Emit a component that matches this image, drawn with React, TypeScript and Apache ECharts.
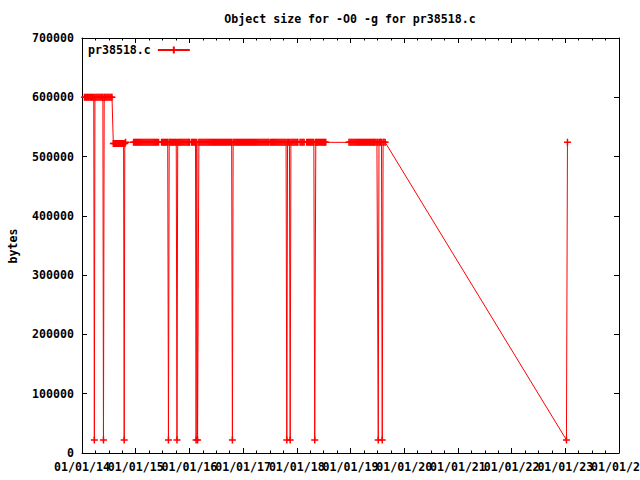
import React, { useEffect, useRef } from 'react';
import * as echarts from 'echarts';

const TITLE = 'Object size for -O0 -g for pr38518.c';
const SERIES_NAME = 'pr38518.c';
const Y_NAME = 'bytes';
const X_START_YEAR = 2014;
const X_END_YEAR = 2024;
const Y_MAX = 700000;
const Y_STEP = 100000;

// Days since 01/01/14 of the dense runs of builds, one array per size level
const bandLevels = [600000, 522000, 524000];
const band600Days = [
  17, 24, 31, 38, 45, 52, 59, 66, 73, 80, 88, 95, 102, 109, 116, 123, 130, 137, 142, 151, 156, 163, 170, 177, 184, 191, 198, 204,
];
const band522Days = [213, 220, 227, 234, 241, 248, 255, 262, 269, 276, 283, 291];
const band524Days = [
  351, 358, 365, 372, 379, 386, 393, 400, 407, 414, 421, 428, 435, 442, 449, 456, 463, 470, 477, 484, 491, 498, 505, 512, 521,
  541, 548, 555, 562, 569, 576, 583, 593, 600, 607, 614, 621, 628, 635, 641, 651, 658, 665, 672, 679, 686, 693, 700, 707, 714, 721, 726, 731,
  745, 752, 759, 766, 772, 781, 795, 802, 809, 816, 823, 830, 837, 844, 851, 858, 865, 872, 879, 886, 893, 900, 907, 914, 921, 928,
  935, 942, 949, 956, 963, 970, 977, 984, 991, 998, 1005, 1012, 1018, 1028, 1035, 1042, 1049, 1056, 1063, 1070, 1077, 1084,
  1091, 1098, 1105, 1112, 1119, 1126, 1133, 1140, 1147, 1154, 1161, 1168, 1175, 1182, 1189, 1196, 1203, 1210, 1217, 1224,
  1231, 1238, 1245, 1252, 1259, 1266, 1272,
  1283, 1290, 1297, 1304, 1311, 1318, 1325, 1332, 1339, 1346, 1353, 1360, 1367, 1374, 1381, 1388, 1398, 1405, 1411, 1421,
  1428, 1435, 1442, 1449, 1456, 1463, 1468,
  1483, 1490, 1497, 1504, 1511,
  1528, 1535, 1542, 1549, 1556, 1563, 1570, 1577, 1590, 1595, 1602, 1609, 1616, 1623, 1630, 1637, 1644, 1651, 1658,
  1816, 1823, 1830, 1837, 1844, 1851, 1858, 1865, 1872, 1879, 1886, 1893, 1900, 1907, 1914, 1921, 1928, 1935, 1942, 1949,
  1956, 1963, 1970, 1977, 1984, 1990, 1994,
  2006, 2010, 2020, 2026, 2032, 2037, 2048, 2054, 2062,
];
// Individual builds (dips to the bottom and isolated points)
const spotDays = [84, 146, 287, 296, 588, 646, 776, 786, 1023, 1393, 1416, 1583, 2015, 2042, 3295, 3302];
const spotSizes = [22000, 22000, 22000, 524000, 22000, 22000, 22000, 22000, 22000, 22000, 22000, 22000, 22000, 22000, 22000, 524000];

const toYear = (d: number) => X_START_YEAR + d / 365.25;

function buildPoints(): number[][] {
  const raw: number[][] = [];
  band600Days.forEach((d) => raw.push([d, bandLevels[0]]));
  band522Days.forEach((d) => raw.push([d, bandLevels[1]]));
  band524Days.forEach((d) => raw.push([d, bandLevels[2]]));
  spotDays.forEach((d, i) => raw.push([d, spotSizes[i]]));
  raw.sort((a, b) => a[0] - b[0]);
  return raw.map(([d, v]) => [toYear(d), v]);
}

const FONT_FAMILY = '"DejaVu Sans Mono", monospace';
const FONT_SIZE = 11.6;
const CROSS = 'path://M0,3.5L7,3.5M3.5,0L3.5,7';
const RED = '#ff0000';

const yearLabel = (v: number) => '01/01/' + String(Math.round(v) % 100).padStart(2, '0');

export default function App() {
  const ref = useRef<HTMLDivElement>(null);
  useEffect(() => {
    if (!ref.current) return;
    const chart = echarts.init(ref.current, null, { renderer: 'svg' });
    const labelStyle = {
      fontFamily: FONT_FAMILY,
      fontWeight: 'bold' as const,
      fontSize: FONT_SIZE,
      color: '#000',
    };
    const axisLine = { show: true, onZero: false, lineStyle: { color: '#000', width: 1 } };
    const xCommon = {
      type: 'value' as const,
      min: X_START_YEAR,
      max: X_END_YEAR,
      interval: 1,
      axisLine,
      axisTick: { show: true, inside: true, length: 5, lineStyle: { color: '#000', width: 1 } },
      minorTick: { show: true, splitNumber: 4, length: 2.5, lineStyle: { color: '#000', width: 1 } },
      splitLine: { show: false },
      minorSplitLine: { show: false },
    };
    const yCommon = {
      type: 'value' as const,
      min: 0,
      max: Y_MAX,
      interval: Y_STEP,
      axisLine,
      axisTick: { show: true, inside: true, length: 5, lineStyle: { color: '#000', width: 1 } },
      splitLine: { show: false },
    };
    const xLabel = (keepEven: boolean) => ({
      ...labelStyle,
      margin: 8,
      interval: 0,
      showMinLabel: true,
      showMaxLabel: true,
      formatter: (v: number) => ((Math.round(v) % 2 === 0) === keepEven ? yearLabel(v) : ''),
    });
    const option: any = {
      animation: false,
      backgroundColor: '#fff',
      grid: { left: 82, top: 38, right: 21, bottom: 27, outerBoundsMode: 'none', containLabel: false },
      xAxis: [
        { ...xCommon, position: 'bottom', axisLabel: xLabel(true) },
        {
          ...xCommon,
          position: 'bottom',
          axisLine: { show: false },
          axisTick: { show: false },
          minorTick: { show: false },
          axisLabel: xLabel(false),
        },
        { ...xCommon, position: 'top', axisLabel: { show: false } },
      ],
      yAxis: [
        {
          ...yCommon,
          position: 'left',
          axisLabel: {
            ...labelStyle,
            margin: 8,
            showMinLabel: true,
            showMaxLabel: true,
            formatter: (v: number) => String(v),
          },
        },
        { ...yCommon, position: 'right', axisLabel: { show: false } },
      ],
      legend: {
        data: [SERIES_NAME],
        left: 88,
        top: 44,
        padding: 0,
        align: 'right',
        itemWidth: 32,
        itemHeight: 9,
        selectedMode: false,
        textStyle: { ...labelStyle, padding: [0, 2, 0, 0] },
      },
      graphic: [
        {
          type: 'text',
          x: 350,
          y: 19,
          silent: true,
          style: {
            text: TITLE,
            font: `bold ${FONT_SIZE}px ${FONT_FAMILY}`,
            fill: '#000',
            align: 'center',
            verticalAlign: 'middle',
          },
        },
        {
          type: 'text',
          x: 13,
          y: 246,
          rotation: Math.PI / 2,
          silent: true,
          style: {
            text: Y_NAME,
            font: `bold ${FONT_SIZE}px ${FONT_FAMILY}`,
            fill: '#000',
            align: 'center',
            verticalAlign: 'middle',
          },
        },
      ],
      series: [
        {
          type: 'line',
          name: SERIES_NAME,
          xAxisIndex: 0,
          yAxisIndex: 0,
          data: buildPoints(),
          symbol: CROSS,
          symbolSize: 7,
          showAllSymbol: true,
          clip: false,
          silent: true,
          lineStyle: { color: RED, width: 1 },
          itemStyle: { color: RED, borderColor: RED, borderWidth: 1.5 },
          emphasis: { disabled: true },
        },
      ],
    };
    chart.setOption(option);
    return () => chart.dispose();
  }, []);
  return (
    <div
      ref={ref}
      style={{ position: 'fixed', left: 0, top: 0, width: 640, height: 480, background: '#fff' }}
    />
  );
}
